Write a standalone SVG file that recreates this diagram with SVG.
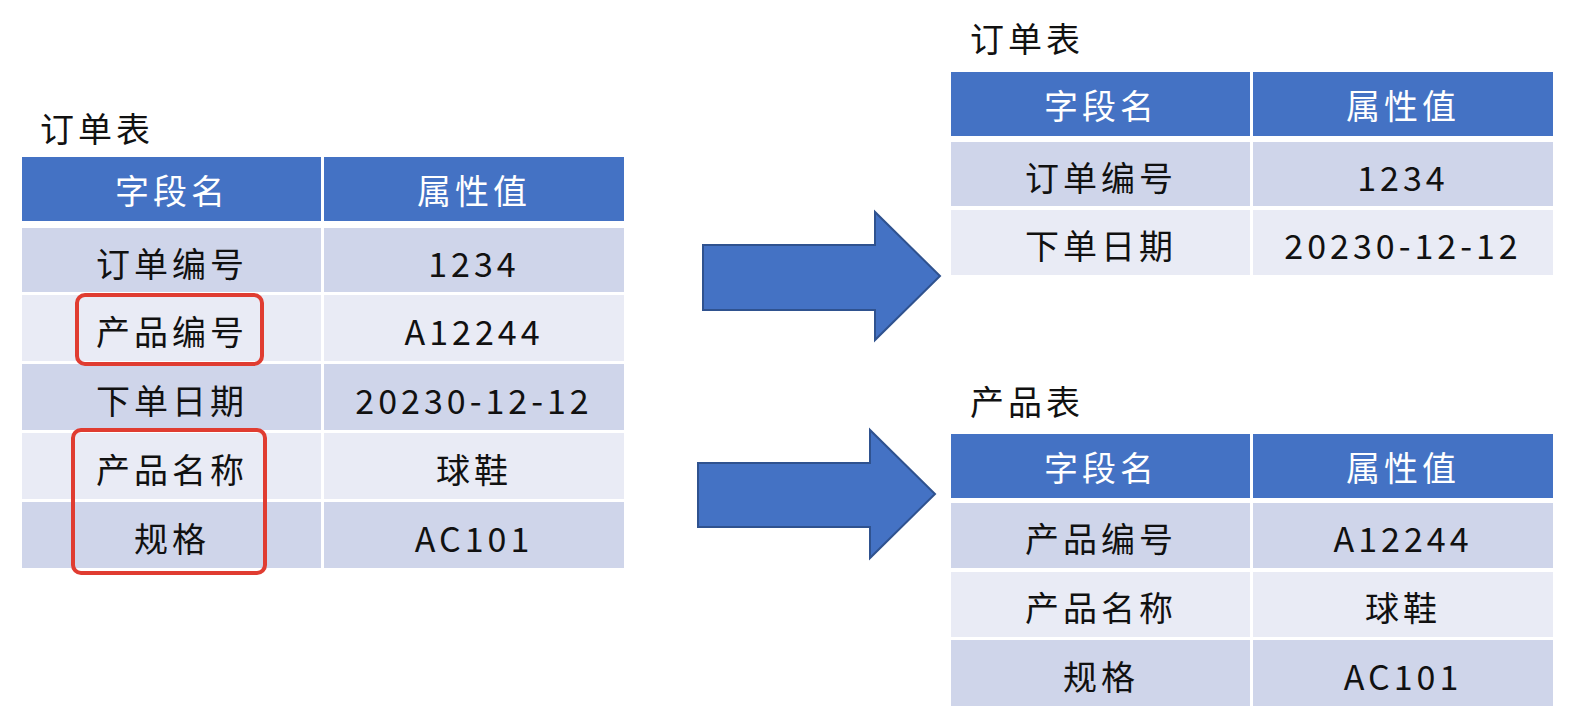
<svg xmlns="http://www.w3.org/2000/svg" width="1570" height="720" viewBox="0 0 1570 720">
<style>
.h{fill:#4472C4}.a{fill:#CFD5EA}.b{fill:#E9EBF5}
text{font-family:"Noto Sans CJK SC","Liberation Serif",serif;font-size:34px;text-anchor:middle;dominant-baseline:central;fill:#111;letter-spacing:4px}
.w{fill:#fff}.t{text-anchor:start}
.arr{fill:#4472C4;stroke:#2F528F;stroke-width:2}
.red{fill:none;stroke:#E03C31;stroke-width:4}
</style>
<rect width="1570" height="720" fill="#fff"/>
<g id="left-table">
<text class="t" x="40" y="127">订单表</text>
<rect class="h" x="22" y="157" width="299" height="64"/><rect class="h" x="324" y="157" width="300" height="64"/>
<text class="w" x="172" y="189">字段名</text><text class="w" x="474" y="189">属性值</text>
<rect class="a" x="22" y="228" width="299" height="64"/><rect class="a" x="324" y="228" width="300" height="64"/>
<text x="172" y="262">订单编号</text><text x="474" y="262">1234</text>
<rect class="b" x="22" y="295" width="299" height="66"/><rect class="b" x="324" y="295" width="300" height="66"/>
<text x="172" y="330">产品编号</text><text x="474" y="330">A12244</text>
<rect class="a" x="22" y="364" width="299" height="66"/><rect class="a" x="324" y="364" width="300" height="66"/>
<text x="172" y="399">下单日期</text><text x="474" y="399">20230-12-12</text>
<rect class="b" x="22" y="433" width="299" height="66"/><rect class="b" x="324" y="433" width="300" height="66"/>
<text x="172" y="468">产品名称</text><text x="474" y="468">球鞋</text>
<rect class="a" x="22" y="502" width="299" height="66"/><rect class="a" x="324" y="502" width="300" height="66"/>
<text x="172" y="537">规格</text><text x="474" y="537">AC101</text>
</g>
<g id="highlights">
<rect class="red" x="77" y="295" width="185" height="69" rx="8"/>
<rect class="red" x="73" y="430" width="192" height="143" rx="8"/>
</g>
<g id="connectors">
<polygon class="arr" points="703,245 875,245 875,212 940,276 875,340 875,310 703,310"/>
<polygon class="arr" points="698,463 870,463 870,430 935,494 870,558 870,527 698,527"/>
</g>
<g id="order-table">
<text class="t" x="970" y="37">订单表</text>
<rect class="h" x="951" y="72" width="299" height="64"/><rect class="h" x="1253" y="72" width="300" height="64"/>
<text class="w" x="1101" y="104">字段名</text><text class="w" x="1403" y="104">属性值</text>
<rect class="a" x="951" y="142" width="299" height="64"/><rect class="a" x="1253" y="142" width="300" height="64"/>
<text x="1101" y="176">订单编号</text><text x="1403" y="176">1234</text>
<rect class="b" x="951" y="210" width="299" height="65"/><rect class="b" x="1253" y="210" width="300" height="65"/>
<text x="1101" y="244">下单日期</text><text x="1403" y="244">20230-12-12</text>
</g>
<g id="product-table">
<text class="t" x="970" y="400">产品表</text>
<rect class="h" x="951" y="434" width="299" height="64"/><rect class="h" x="1253" y="434" width="300" height="64"/>
<text class="w" x="1101" y="466">字段名</text><text class="w" x="1403" y="466">属性值</text>
<rect class="a" x="951" y="503" width="299" height="65"/><rect class="a" x="1253" y="503" width="300" height="65"/>
<text x="1101" y="537">产品编号</text><text x="1403" y="537">A12244</text>
<rect class="b" x="951" y="572" width="299" height="65"/><rect class="b" x="1253" y="572" width="300" height="65"/>
<text x="1101" y="606">产品名称</text><text x="1403" y="606">球鞋</text>
<rect class="a" x="951" y="640" width="299" height="66"/><rect class="a" x="1253" y="640" width="300" height="66"/>
<text x="1101" y="675">规格</text><text x="1403" y="675">AC101</text>
</g>
</svg>
